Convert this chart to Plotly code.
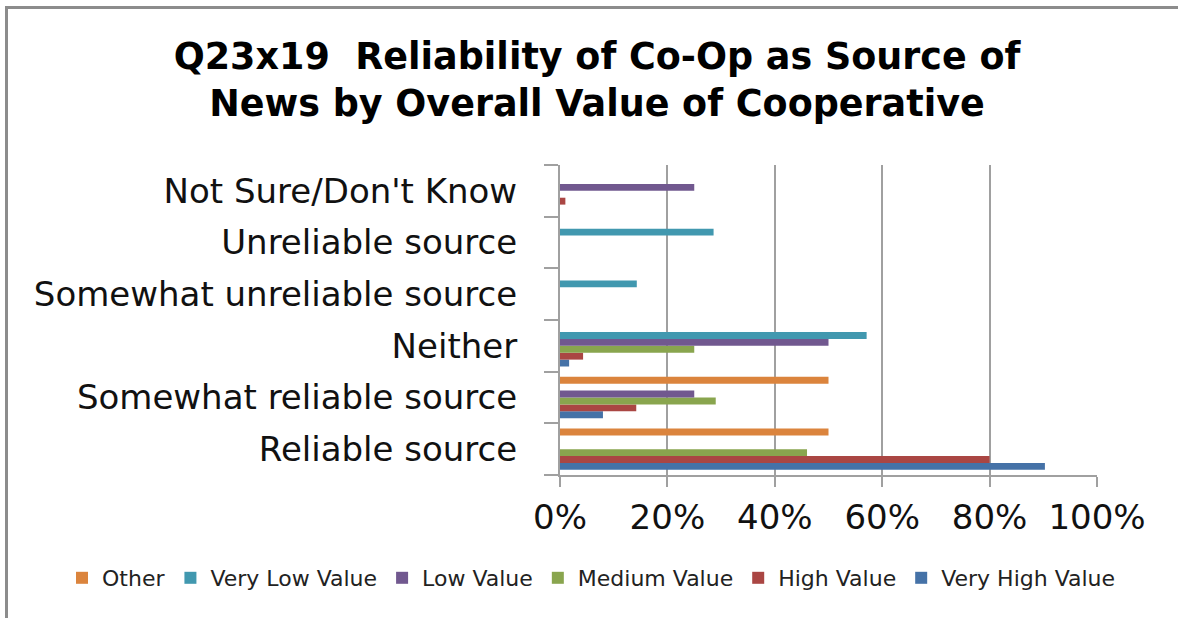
import plotly.graph_objects as go

W, H = 1178, 618

categories = [
    "Reliable source",
    "Somewhat reliable source",
    "Neither",
    "Somewhat unreliable source",
    "Unreliable source",
    "Not Sure/Don't Know",
]

# Percent of respondents in each value group (series listed bottom-to-top within a category)
series_names = ["Very High Value", "High Value", "Medium Value", "Low Value", "Very Low Value", "Other"]
very_high = [90.3, 8.0, 1.7, None, None, None]
high = [80.0, 14.2, 4.3, None, None, 1.0]
medium = [46.0, 29.0, 25.0, None, None, None]
low = [None, 25.0, 50.0, None, None, 25.0]
very_low = [None, None, 57.1, 14.3, 28.6, None]
other = [50.0, 50.0, None, None, None, None]
series_values = [very_high, high, medium, low, very_low, other]
series_colors = ["#4572A7", "#AA4643", "#89A54E", "#71588F", "#4198AF", "#DB843D"]

x_ticks = [0, 20, 40, 60, 80, 100]
x_tick_labels = ["0%", "20%", "40%", "60%", "80%", "100%"]

FONT = "DejaVu Sans"

fig = go.Figure()
for name, vals, col in zip(series_names, series_values, series_colors):
    fig.add_trace(go.Bar(
        y=categories,
        x=[v if v is not None else 0 for v in vals],
        name=name,
        orientation="h",
        marker=dict(color=col, line=dict(width=0)),
    ))

# plot-area box in pixels
L, R, T, B = 560, 1097, 165, 475
pw, ph = R - L, B - T


def px_to_paper_x(px):
    return (px - L) / pw


def px_to_paper_y(py):
    return (B - py) / ph


fig.update_layout(
    width=W,
    height=H,
    margin=dict(l=L, r=W - R, t=T, b=H - B, pad=0, autoexpand=False),
    paper_bgcolor="white",
    plot_bgcolor="white",
    barmode="group",
    bargap=0.2,
    bargroupgap=0.0,
    font=dict(family=FONT, color="#111111"),
    title=dict(
        text="Q23x19  Reliability of Co-Op as Source of<br>News by Overall Value of Cooperative",
        x=597 / W,
        xref="container",
        xanchor="center",
        y=1 - 69 / H,
        yref="container",
        yanchor="middle",
        font=dict(family="DejaVu Sans", size=36.5, color="#000000", weight="bold"),
    ),
    legend=dict(
        orientation="h",
        traceorder="reversed",
        xref="paper",
        x=px_to_paper_x(62),
        xanchor="left",
        yref="paper",
        y=px_to_paper_y(578),
        yanchor="middle",
        font=dict(family=FONT, size=22, color="#222222"),
        itemwidth=30,
        itemsizing="constant",
        tracegroupgap=0,
    ),
    xaxis=dict(
        range=[0, 100],
        tickvals=x_ticks,
        ticktext=x_tick_labels,
        showgrid=True,
        gridcolor="#A0A0A0",
        gridwidth=2,
        zeroline=False,
        showline=True,
        linecolor="#A0A0A0",
        linewidth=2,
        ticks="outside",
        ticklen=10,
        tickcolor="#A0A0A0",
        tickwidth=2,
        ticklabelstandoff=1,
        tickfont=dict(family=FONT, size=34, color="#111111"),
    ),
    yaxis=dict(
        type="category",
        categoryorder="array",
        categoryarray=categories,
        showline=True,
        linecolor="#A0A0A0",
        linewidth=2,
        ticks="outside",
        tickson="boundaries",
        ticklen=14,
        tickcolor="#A0A0A0",
        tickwidth=2,
        showgrid=False,
        ticklabelstandoff=34,
        tickfont=dict(family=FONT, size=34, color="#111111"),
    ),
)

# outer chart frame (runs off the right and bottom edges)
fig.add_shape(
    type="rect",
    xref="paper", yref="paper",
    x0=px_to_paper_x(6.5), x1=px_to_paper_x(1190),
    y0=px_to_paper_y(640), y1=px_to_paper_y(7.5),
    line=dict(color="#8C8C8C", width=3),
    fillcolor="rgba(0,0,0,0)",
    layer="below",
)

fig.write_html("out.html")
